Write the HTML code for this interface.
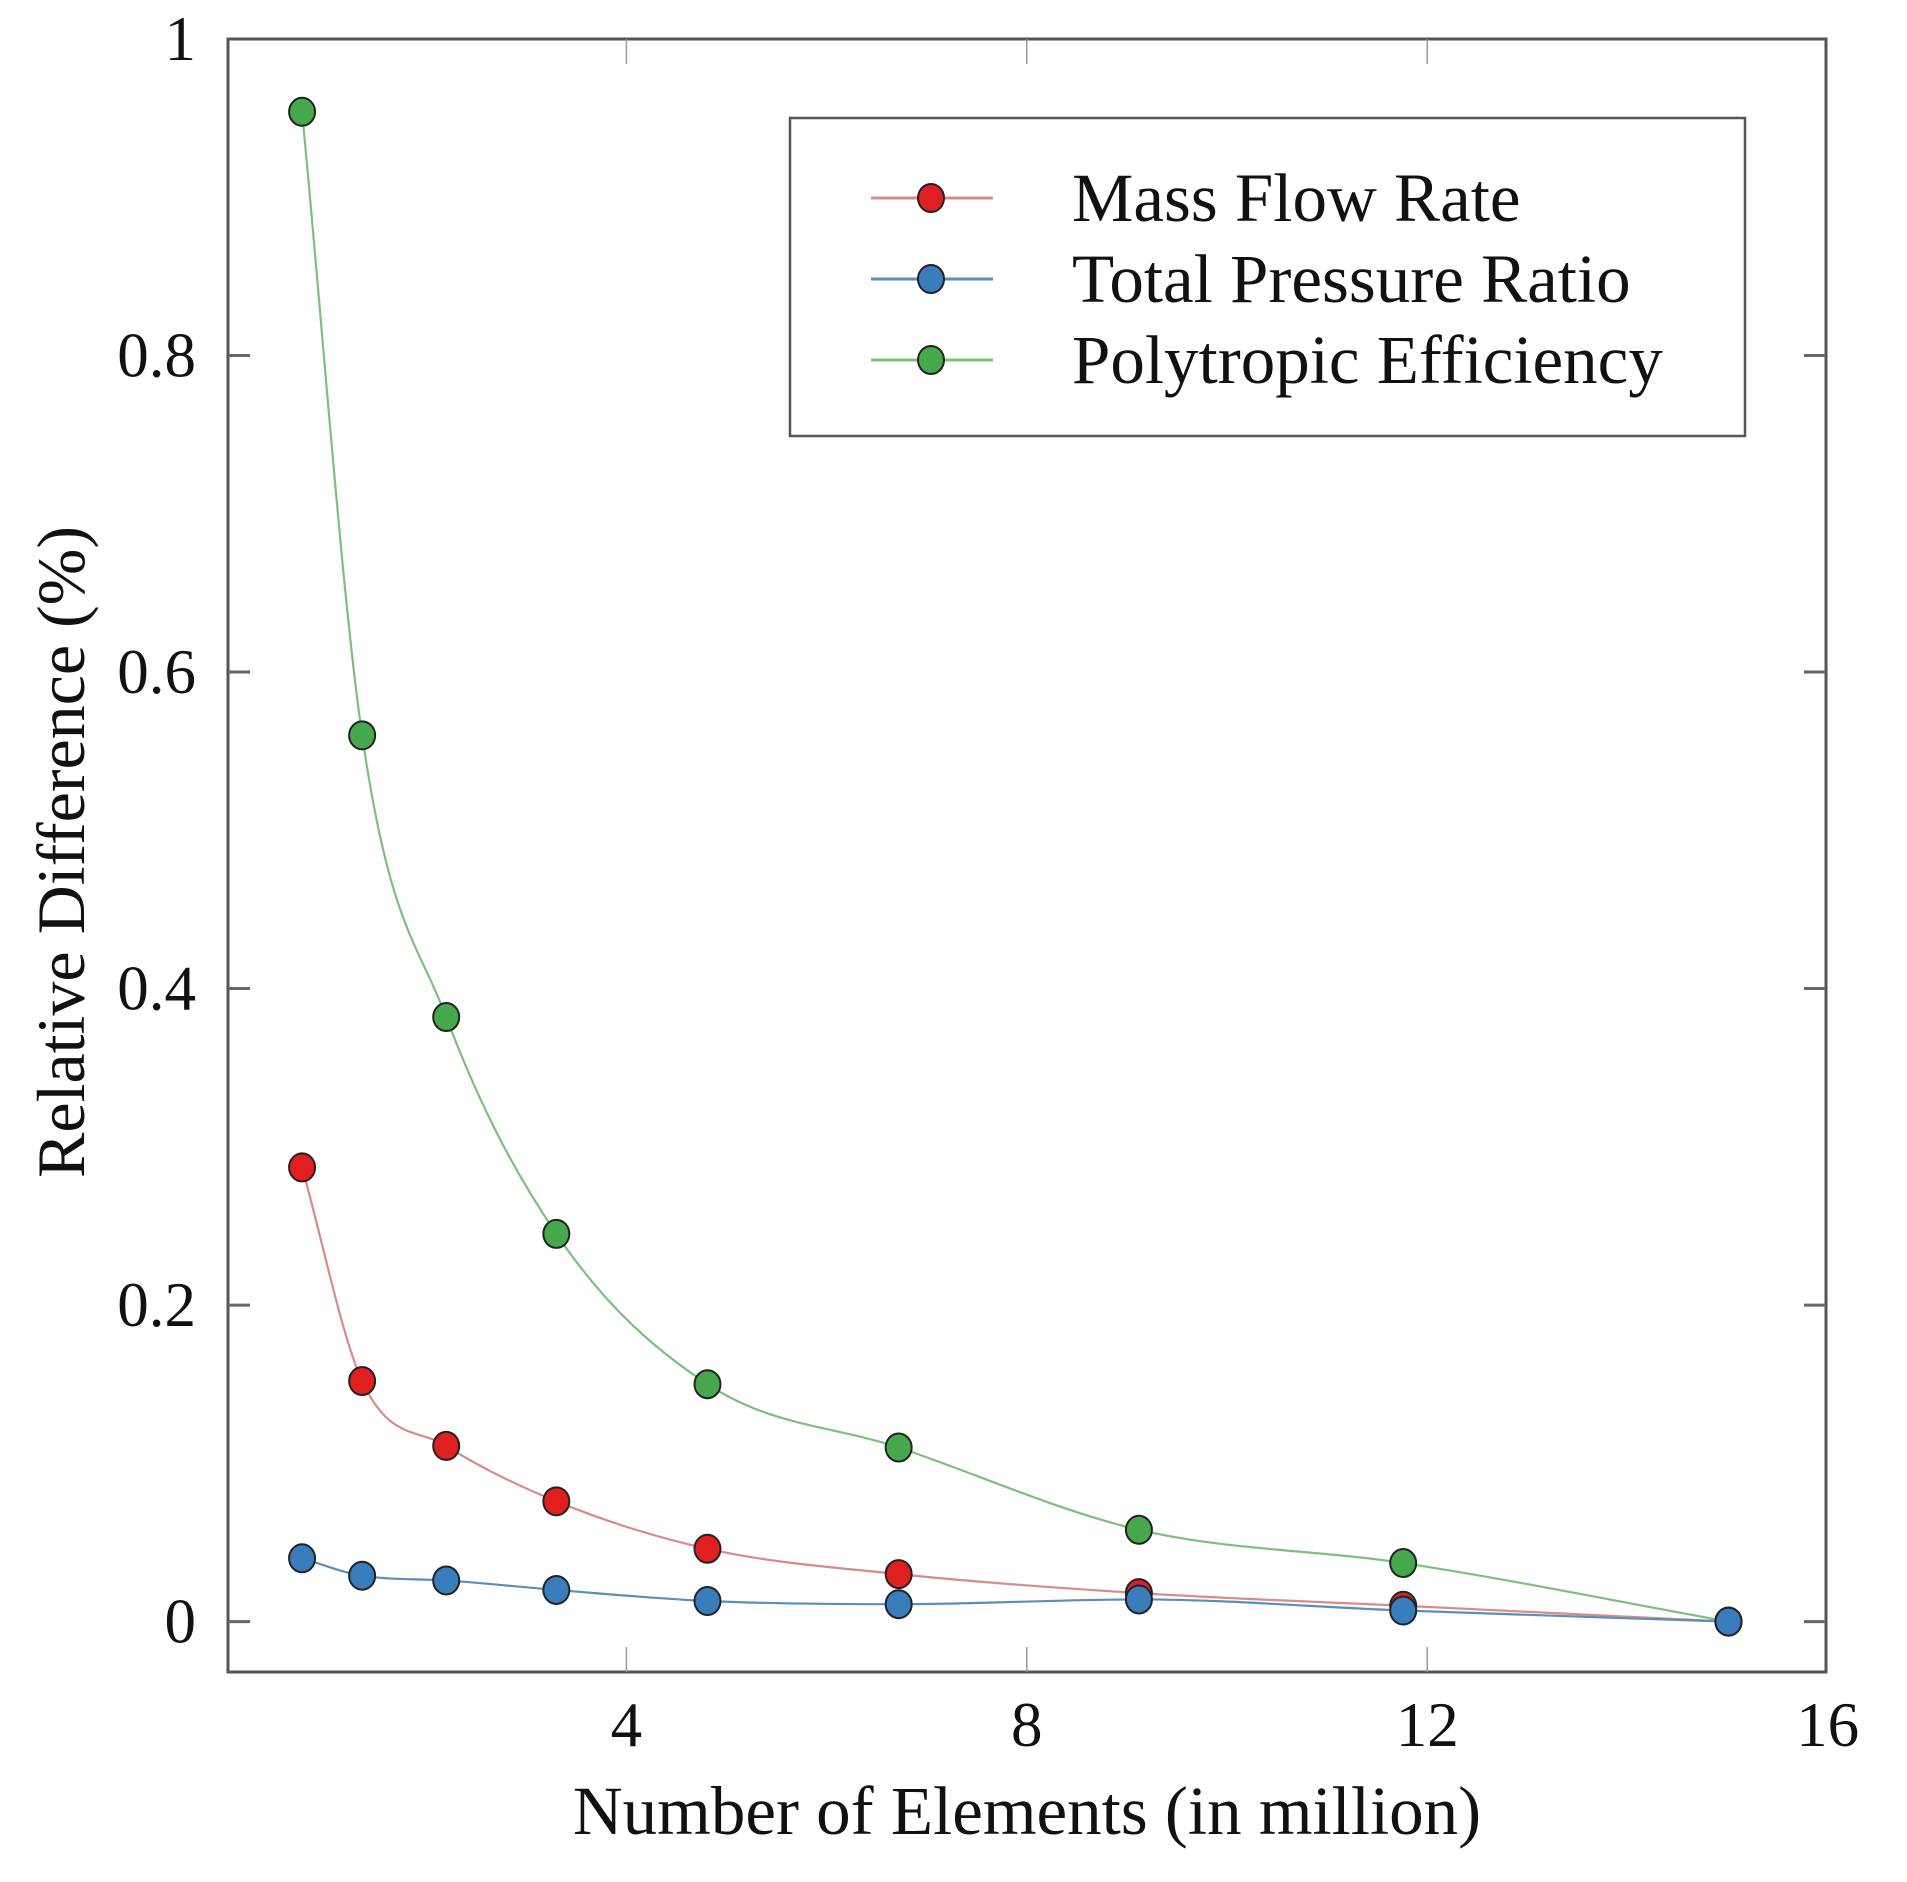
<!DOCTYPE html>
<html><head><meta charset="utf-8"><style>
html,body{margin:0;padding:0;background:#fff;}
svg{display:block;font-family:"Liberation Serif",serif;}
</style></head><body>
<svg id="chart" width="1907" height="1882" viewBox="0 0 1907 1882">
<g id="plot"></g>
</svg>
<script>
const categories = [0.76, 1.36, 2.20, 3.30, 4.81, 6.72, 9.12, 11.76, 15.01];
const massFlow = [0.287, 0.152, 0.111, 0.076, 0.046, 0.030, 0.018, 0.010, 0.0];
const pressureRatio = [0.040, 0.029, 0.026, 0.020, 0.013, 0.011, 0.014, 0.007, 0.0];
const polytropic = [0.954, 0.560, 0.382, 0.245, 0.150, 0.110, 0.058, 0.037, 0.0];
const xTicks = [4, 8, 12, 16];
const yTicks = [0, 0.2, 0.4, 0.6, 0.8, 1];
const yTickLabels = ["0", "0.2", "0.4", "0.6", "0.8", "1"];
const seriesNames = ["Mass Flow Rate", "Total Pressure Ratio", "Polytropic Efficiency"];

const L=228, R=1826, T=39, B=1672;
const X0=226, XS=100.1;
const Y0=1621.6, YS=1582.6;
function xs(v){return X0+v*XS;}
function ys(v){return Y0-v*YS;}
const NS="http://www.w3.org/2000/svg";
const g=document.getElementById('plot');
function mk(tag,attrs,parent){const e=document.createElementNS(NS,tag);for(const k in attrs)e.setAttribute(k,attrs[k]);(parent||g).appendChild(e);return e;}

const frame=mk('rect',{x:L,y:T,width:R-L,height:B-T,fill:'none',stroke:'#555','stroke-width':3});



yTicks.forEach((v,i)=>{
  const y=ys(v);
  if(v<0.999){
    const t1=mk('line',{x1:L,x2:L+22,y1:y,y2:y,stroke:'#666','stroke-width':3});
    
    
    const t2=mk('line',{x1:R-22,x2:R,y1:y,y2:y,stroke:'#666','stroke-width':3});
    
    
  }
  const tx=mk('text',{x:196,y:y+21,'text-anchor':'end','font-size':63,fill:'#111'});
  tx.textContent=yTickLabels[i];
  
  
});
xTicks.forEach(v=>{
  const x=xs(v);
  if(v<16){
    const t1=mk('line',{x1:x,x2:x,y1:B,y2:B-25,stroke:'#999','stroke-width':1.5});
    
    
    const t2=mk('line',{x1:x,x2:x,y1:T,y2:T+25,stroke:'#999','stroke-width':1.5});
    
    
  }
  const tx=mk('text',{x:x,y:1746,'text-anchor':'middle','font-size':63,fill:'#111'});
  tx.textContent=String(v);
  
  
});
const xt=mk('text',{x:1027,y:1834,'text-anchor':'middle','font-size':69,fill:'#111'});
xt.textContent='Number of Elements (in million)';


const yt=mk('text',{x:0,y:0,'text-anchor':'middle','font-size':68,fill:'#111',transform:'translate(84,852) rotate(-90)'});
yt.textContent='Relative Difference (%)';



function monoPath(xv,yv){
  const n=xv.length, px=xv.map(xs), py=yv.map(ys);
  const d=[],m=[];
  for(let i=0;i<n-1;i++) d.push((py[i+1]-py[i])/(px[i+1]-px[i]));
  m[0]=d[0]; m[n-1]=d[n-2];
  for(let i=1;i<n-1;i++){ m[i]=(d[i-1]*d[i]<=0)?0:(d[i-1]+d[i])/2; }
  for(let i=0;i<n-1;i++){
    if(d[i]===0){m[i]=0;m[i+1]=0;continue;}
    const a=m[i]/d[i], b=m[i+1]/d[i], s=a*a+b*b;
    if(s>9){const t=3/Math.sqrt(s);m[i]=t*a*d[i];m[i+1]=t*b*d[i];}
  }
  let p='M'+px[0]+','+py[0];
  for(let i=0;i<n-1;i++){
    const h=(px[i+1]-px[i])/3;
    p+=' C'+(px[i]+h)+','+(py[i]+m[i]*h)+' '+(px[i+1]-h)+','+(py[i+1]-m[i+1]*h)+' '+px[i+1]+','+py[i+1];
  }
  return p;
}
const lineCols=['#d98a8a','#5b8fb5','#7cc07f'];
const dotCols=['#e02020','#3a7dbd','#45a84c'];
const series=[massFlow,pressureRatio,polytropic];
const names=['mass-flow-rate','total-pressure-ratio','polytropic-efficiency'];
[2,0,1].forEach(si=>{
  const pl=mk('path',{d:monoPath(categories,series[si]),fill:'none',stroke:lineCols[si],'stroke-width':2.2});
  
  
});
[2,0,1].forEach(si=>{
  series[si].forEach((v,i)=>{
    const c=mk('ellipse',{cx:xs(categories[i]),cy:ys(v),rx:13,ry:14,fill:dotCols[si],stroke:'#222','stroke-width':2});
    
    
  });
});

const lg=mk('g',{});


const lb=mk('rect',{x:790,y:118,width:955,height:318,fill:'#fff',stroke:'#555','stroke-width':2.5},lg);


const ly=[198,279,360];
seriesNames.forEach((nm,i)=>{
  const e=mk('g',{},lg);
  
  
  mk('line',{x1:871,x2:993,y1:ly[i],y2:ly[i],stroke:lineCols[i],'stroke-width':3},e);
  mk('ellipse',{cx:931,cy:ly[i],rx:13,ry:14,fill:dotCols[i],stroke:'#222','stroke-width':2},e);
  const t=mk('text',{x:1072,y:ly[i]+23,'font-size':69,fill:'#111'},e);
  t.textContent=nm;
});
</script>
</body></html>
